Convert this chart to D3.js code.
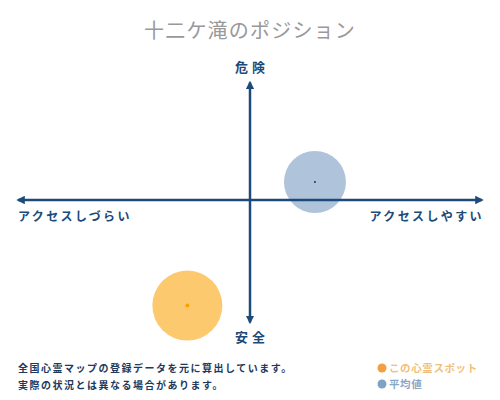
<!DOCTYPE html>
<html><head><meta charset="utf-8">
<script src="https://cdn.jsdelivr.net/npm/d3@7"></script>
<style>
html,body{margin:0;padding:0;background:#fff;}
svg{display:block;font-family:"Noto Sans CJK JP","Noto Sans",sans-serif;}
</style></head>
<body><svg id="c" width="500" height="400"></svg>
<script>
// ---- data ----
const title = "十二ケ滝のポジション";
const axisLabels = {top:"危険", bottom:"安全", left:"アクセスしづらい", right:"アクセスしやすい"};
const seriesNames = ["この心霊スポット", "平均値"];
const accessValues = [-2.7, 2.8];   // x: access (− hard, + easy)
const dangerValues = [-8.8, 1.5];   // y: danger (− safe, + dangerous)
const spreadValues = [3.5, 3.1];    // circle size value
const notes = ["全国心霊マップの登録データを元に算出しています。", "実際の状況とは異なる場合があります。"];

const svg = d3.select("#c");
const axisColor = "#1d4a78";
const fills = ["#fdc96f", "#afc3da"];
const dotFills = ["#f5a300", "#333"];
const legendColors = ["#f0a040", "#7fa3c4"];
const legendText = ["#f1bf7a", "#8aa8c6"];

const x = d3.scaleLinear().domain([-10,10]).range([18,482]);
const y = d3.scaleLinear().domain([-10,10]).range([320,80]);
const r = d3.scaleLinear().domain([0,10]).range([0,100]);

// title
svg.append("text").attr("x",250).attr("y",38).attr("text-anchor","middle")
  .attr("font-size",20).attr("fill","#999").attr("letter-spacing",1.2).text(title);

// circles
const pts = seriesNames.map((n,i)=>({n,x:accessValues[i],y:dangerValues[i],s:spreadValues[i],i}));
svg.selectAll("circle.big").data(pts).join("circle").attr("class","big")
  .attr("cx",d=>x(d.x)).attr("cy",d=>y(d.y)).attr("r",d=>r(d.s))
  .attr("fill",d=>fills[d.i]);

// arrows
const defs = svg.append("defs");
defs.append("marker").attr("id","ah").attr("viewBox","0 0 10 10").attr("refX",8).attr("refY",5)
  .attr("markerWidth",3.4).attr("markerHeight",3.4).attr("orient","auto-start-reverse")
  .append("path").attr("d","M0,0 L10,5 L0,10 z").attr("fill",axisColor);

svg.append("line").attr("x1",x(-10)).attr("x2",x(10)).attr("y1",y(0)).attr("y2",y(0))
  .attr("stroke",axisColor).attr("stroke-width",2.5)
  .attr("marker-start","url(#ah)").attr("marker-end","url(#ah)");
svg.append("line").attr("x1",x(0)).attr("x2",x(0)).attr("y1",y(-10.2)).attr("y2",y(9.8))
  .attr("stroke",axisColor).attr("stroke-width",2.5)
  .attr("marker-start","url(#ah)").attr("marker-end","url(#ah)");

// center dots
svg.selectAll("circle.dot").data(pts).join("circle").attr("class","dot")
  .attr("cx",d=>x(d.x)).attr("cy",d=>y(d.y)).attr("r",d=>d.i===0?2:1)
  .attr("fill",d=>dotFills[d.i]);

// axis labels
const lab = (t,xx,yy,anchor)=>svg.append("text").attr("x",xx).attr("y",yy).attr("text-anchor",anchor)
  .attr("font-size",13).attr("font-weight","bold").attr("fill",axisColor).attr("letter-spacing",4).text(t);
lab(axisLabels.top, x(0)+2, 72, "middle");
lab(axisLabels.bottom, x(0)+2, 342, "middle");
svg.append("text").attr("x",18).attr("y",221).attr("font-size",12).attr("font-weight","bold")
  .attr("fill",axisColor).attr("letter-spacing",2.4).text(axisLabels.left);
svg.append("text").attr("x",484).attr("y",221).attr("text-anchor","end").attr("font-size",12).attr("font-weight","bold")
  .attr("fill",axisColor).attr("letter-spacing",2.4).text(axisLabels.right);

// notes
svg.selectAll("text.note").data(notes).join("text").attr("class","note")
  .attr("x",18).attr("y",(d,i)=>372+i*17).attr("font-size",10).attr("font-weight","bold")
  .attr("fill","#1d3a5c").attr("letter-spacing",1.5).text(d=>d);

// legend
const lg = svg.selectAll("g.lg").data(seriesNames).join("g").attr("class","lg")
  .attr("transform",(d,i)=>`translate(382,${368+i*16})`);
lg.append("circle").attr("r",4.5).attr("fill",(d,i)=>legendColors[i]);
lg.append("text").attr("x",7).attr("y",4).attr("font-size",10.5).attr("font-weight","bold")
  .attr("letter-spacing",0.6).attr("fill",(d,i)=>legendText[i]).text(d=>d);
</script></body></html>
